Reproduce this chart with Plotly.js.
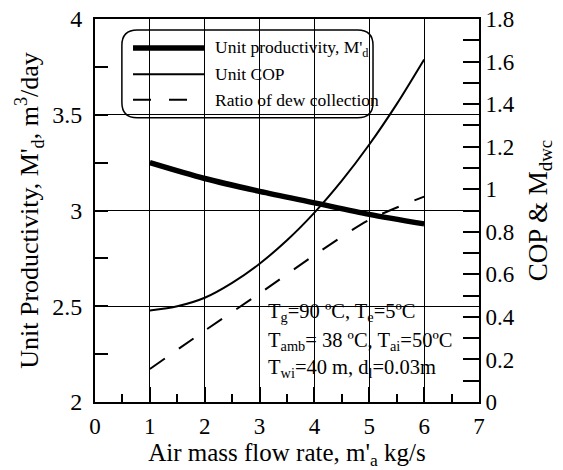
<!DOCTYPE html>
<html>
<head>
<meta charset="utf-8">
<script src="https://cdn.plot.ly/plotly-3.0.1.min.js"></script>
<style>html,body{margin:0;padding:0;background:#fff;}#chart{width:563px;height:470px;}</style>
</head>
<body>
<div id="chart"></div>
<script>
// Data
var prodFlow = [1, 2, 3, 4, 5, 6];
var productivity = [3.25, 3.167, 3.10, 3.04, 2.98, 2.93];

var copFlow = [1, 1.5, 2, 2.5, 3, 3.5, 4, 4.5, 5, 5.5, 6];
var copValues = [0.43, 0.45, 0.49, 0.56, 0.65, 0.76, 0.89, 1.04, 1.21, 1.40, 1.61];

var dewFlow = [1, 2, 3, 4, 5, 6];
var dewRatio = [0.155, 0.335, 0.51, 0.69, 0.856, 0.965];

var seriesNames = ["Unit productivity, M'<sub>d</sub>", "Unit COP", "Ratio of dew collection"];
var conditionLines = [
  "T<sub>g</sub>=90 ºC, T<sub>e</sub>=5ºC",
  "T<sub>amb</sub>= 38 ºC, T<sub>ai</sub>=50ºC",
  "T<sub>wi</sub>=40 m, d<sub>l</sub>=0.03m"
];

var FONT = "Liberation Serif";

var traces = [
  {x: prodFlow, y: productivity, mode: 'lines', line: {color: '#000', width: 5.5, shape: 'spline', smoothing: 0.8}, yaxis: 'y', name: 'Unit productivity', showlegend: false},
  {x: copFlow, y: copValues, mode: 'lines', line: {color: '#000', width: 2, shape: 'spline', smoothing: 0.8}, yaxis: 'y2', name: 'Unit COP', showlegend: false},
  {x: dewFlow, y: dewRatio, mode: 'lines', line: {color: '#000', width: 2, dash: '18px,17px', shape: 'spline', smoothing: 0.8}, yaxis: 'y2', name: 'Ratio of dew collection', showlegend: false}
];

// legend drawn manually (rounded box)
var lx0 = 0.070, lx1 = 0.724, ly0 = 0.742, ly1 = 0.971, r = 0.04;
var boxPath = 'M' + (lx0 + r) + ',' + ly1 + ' L' + (lx1 - r) + ',' + ly1 +
  ' Q' + lx1 + ',' + ly1 + ' ' + lx1 + ',' + (ly1 - r) +
  ' L' + lx1 + ',' + (ly0 + r) + ' Q' + lx1 + ',' + ly0 + ' ' + (lx1 - r) + ',' + ly0 +
  ' L' + (lx0 + r) + ',' + ly0 + ' Q' + lx0 + ',' + ly0 + ' ' + lx0 + ',' + (ly0 + r) +
  ' L' + lx0 + ',' + (ly1 - r) + ' Q' + lx0 + ',' + ly1 + ' ' + (lx0 + r) + ',' + ly1 + ' Z';

var legendRows = [0.924, 0.856, 0.789];
var legendStyles = [{width: 5.5}, {width: 2}, {width: 2, dash: '18px,18px'}];
var shapes = [{type: 'path', xref: 'paper', yref: 'paper', path: boxPath, line: {color: '#000', width: 1.5}}];
var annotations = [];
for (var i = 0; i < 3; i++) {
  var st = legendStyles[i];
  shapes.push({type: 'line', xref: 'paper', yref: 'paper', x0: 0.099, x1: 0.286, y0: legendRows[i], y1: legendRows[i],
    line: {color: '#000', width: st.width, dash: st.dash || 'solid'}});
  annotations.push({xref: 'paper', yref: 'paper', x: 0.306, y: legendRows[i], xanchor: 'left', yanchor: 'middle',
    text: seriesNames[i], showarrow: false, font: {family: FONT, size: 17.5, color: '#000'}});
}
var condY = [0.234, 0.158, 0.088];
for (var j = 0; j < 3; j++) {
  annotations.push({xref: 'paper', yref: 'paper', x: 0.446, y: condY[j], xanchor: 'left', yanchor: 'middle',
    text: conditionLines[j], showarrow: false, font: {family: FONT, size: 20.5, color: '#000'}});
}

var layout = {
  width: 563, height: 470,
  margin: {l: 95, r: 84, t: 19, b: 68},
  paper_bgcolor: '#fff', plot_bgcolor: '#fff',
  font: {family: FONT, size: 23, color: '#000'},
  showlegend: false,
  xaxis: {
    range: [0, 7], dtick: 1, tick0: 0,
    showline: true, linecolor: '#000', linewidth: 2, mirror: true,
    ticks: 'inside', ticklen: 15, tickwidth: 2, tickcolor: '#000',
    minor: {dtick: 0.5, ticks: 'inside', ticklen: 8, tickwidth: 1.5, tickcolor: '#000', showgrid: false},
    showgrid: true, gridcolor: '#000', gridwidth: 1,
    zeroline: false, ticklabelstandoff: 2,
    tickfont: {family: FONT, size: 23, color: '#000'},
    title: {text: "Air mass flow rate, m'<sub>a</sub> kg/s", font: {family: FONT, size: 25, color: '#000'}, standoff: 6}
  },
  yaxis: {
    range: [2, 4], dtick: 0.5, tick0: 2,
    showline: true, linecolor: '#000', linewidth: 2,
    ticks: 'inside', ticklen: 13, tickwidth: 2, tickcolor: '#000',
    minor: {dtick: 0.25, ticks: 'inside', ticklen: 13, tickwidth: 2, tickcolor: '#000', showgrid: false},
    showgrid: true, gridcolor: '#000', gridwidth: 1,
    zeroline: false, ticklabelstandoff: 6,
    tickfont: {family: FONT, size: 24, color: '#000'},
    title: {text: "Unit Productivity, M'<sub>d</sub>, m<sup>3</sup>/day", font: {family: FONT, size: 26, color: '#000'}, standoff: 6}
  },
  yaxis2: {
    range: [0, 1.8], dtick: 0.2, tick0: 0, overlaying: 'y', side: 'right',
    showline: true, linecolor: '#000', linewidth: 2,
    ticks: 'inside', ticklen: 16, tickwidth: 2, tickcolor: '#000',
    minor: {dtick: 0.1, ticks: 'inside', ticklen: 16, tickwidth: 2, tickcolor: '#000', showgrid: false},
    showgrid: false, zeroline: false,
    tickfont: {family: FONT, size: 23, color: '#000'},
    title: {text: "COP & M<sub>dwc</sub>", font: {family: FONT, size: 27, color: '#000'}, standoff: 14}
  },
  shapes: shapes,
  annotations: annotations
};

Plotly.newPlot('chart', traces, layout, {displayModeBar: false});
</script>
</body>
</html>
